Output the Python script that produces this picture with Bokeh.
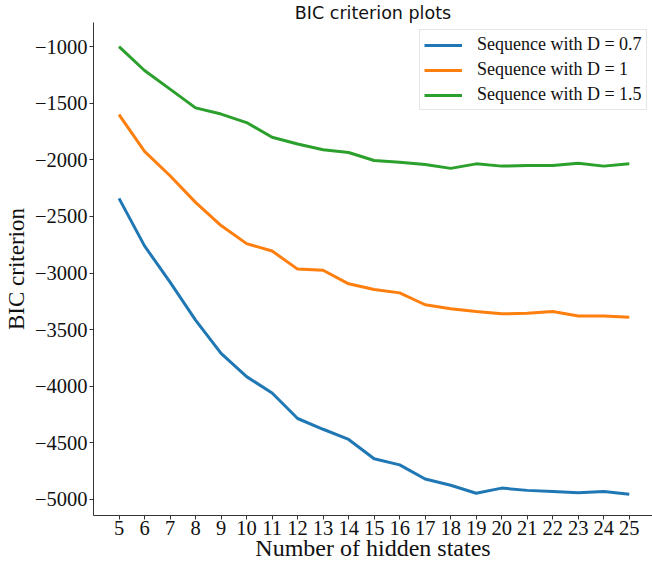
from bokeh.plotting import figure
from bokeh.models import Range1d, FixedTicker, Legend, LegendItem, CustomJSTickFormatter
from bokeh.embed import file_html
from bokeh.resources import INLINE

states = list(range(5, 26))
bic_d07 = [-2340, -2760, -3080, -3415, -3710, -3915, -4060, -4285, -4380, -4470, -4640,
           -4695, -4820, -4875, -4945, -4900, -4920, -4930, -4940, -4930, -4955]
bic_d1 = [-1600, -1925, -2140, -2375, -2580, -2740, -2805, -2965, -2975, -3095, -3145,
          -3175, -3280, -3315, -3340, -3360, -3355, -3340, -3380, -3380, -3390]
bic_d15 = [-1000, -1210, -1375, -1540, -1595, -1670, -1800, -1860, -1910, -1935, -2005,
           -2020, -2040, -2075, -2035, -2055, -2050, -2050, -2030, -2055, -2035]
series_names = ["Sequence with D = 0.7", "Sequence with D = 1", "Sequence with D = 1.5"]
colors = ["#1f77b4", "#ff7f0e", "#2ca02c"]
y_ticks = [-5000, -4500, -4000, -3500, -3000, -2500, -2000, -1500, -1000]

p = figure(width=652, height=565, output_backend="svg", toolbar_location=None,
           x_range=Range1d(4, 25.91), y_range=Range1d(-5142, -786),
           title="BIC criterion plots",
           min_border_left=91, min_border_right=0, min_border_bottom=50, min_border_top=0)
p.outline_line_color = None
p.xgrid.visible = False
p.ygrid.visible = False
p.background_fill_color = "white"
p.border_fill_color = "white"

p.title.text_font = "DejaVu Sans"
p.title.text_font_size = "17.5px"
p.title.text_font_style = "normal"
p.title.text_line_height = 0.8
p.title.align = "center"
p.title.standoff = 0
p.title.text_color = "#111111"

serif = "Liberation Serif"
for ax in (p.xaxis[0], p.yaxis[0]):
    ax.axis_line_color = "#333333"
    ax.axis_line_width = 1
    ax.major_tick_line_color = "#333333"
    ax.major_tick_out = 4
    ax.major_tick_in = 0
    ax.minor_tick_line_color = None
    ax.major_label_text_font = serif
    ax.major_label_text_font_size = "20.5px"
    ax.major_label_text_color = "#111111"
    ax.axis_label_text_font = serif
    ax.axis_label_text_font_style = "normal"
    ax.axis_label_text_color = "#111111"

p.xaxis.ticker = FixedTicker(ticks=states)
p.xaxis.axis_label = "Number of hidden states"
p.xaxis.axis_label_text_font_size = "24px"
p.xaxis.major_label_standoff = 1
p.xaxis.axis_label_standoff = -3
p.yaxis.ticker = FixedTicker(ticks=y_ticks)
p.yaxis.formatter = CustomJSTickFormatter(
    code="return (tick < 0 ? '\\u2212' : '') + Math.abs(tick).toFixed(0);")
p.yaxis.axis_label = "BIC criterion"
p.yaxis.axis_label_text_font_size = "23px"
p.yaxis.major_label_standoff = 2
p.yaxis.axis_label_standoff = 3

items = []
for name, ys, c in zip(series_names, [bic_d07, bic_d1, bic_d15], colors):
    r = p.line(states, ys, line_color=c, line_width=3)
    items.append(LegendItem(label=name, renderers=[r]))

legend = Legend(items=items, location=(326, 405))
legend.label_text_font = serif
legend.label_text_font_size = "18px"
legend.label_text_color = "#111111"
legend.glyph_width = 38
legend.glyph_height = 18
legend.label_height = 18
legend.label_standoff = 15
legend.spacing = 4
legend.padding = 4
legend.margin = 0
legend.border_line_color = "#cccccc"
legend.border_line_width = 1
legend.background_fill_alpha = 0.9
p.add_layout(legend)

open("out.html", "w").write(file_html(p, INLINE))
